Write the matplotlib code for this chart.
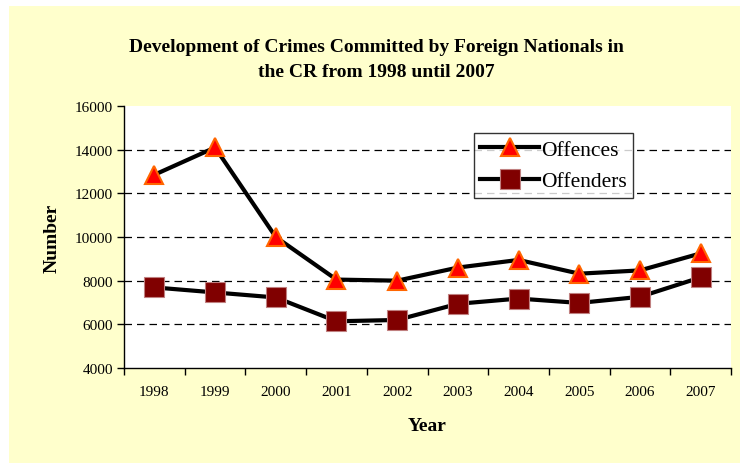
import matplotlib
matplotlib.use("Agg")
import matplotlib.pyplot as plt
from matplotlib.patches import Rectangle

# ── Datos ──────────────────────────────────────────────────────────────────────
years = ["1998", "1999", "2000", "2001", "2002", "2003", "2004", "2005", "2006", "2007"]
offences = [12850, 14100, 10000, 8050, 8000, 8600, 8950, 8320, 8470, 9250]
offenders = [7690, 7460, 7230, 6140, 6200, 6940, 7180, 6980, 7260, 8150]

plt.rcParams["font.family"] = ["Liberation Serif", "DejaVu Serif"]

fig = plt.figure(figsize=(7.4, 4.64), dpi=100, facecolor="white")
fig.add_artist(Rectangle((9 / 740, 0), 731 / 740, 457 / 464,
                         transform=fig.transFigure, facecolor="#FFFFCC",
                         edgecolor="none", zorder=0))

ax = fig.add_axes([124 / 740, 95 / 464, 607 / 740, 262 / 464])
ax.set_facecolor("white")

x = list(range(len(years)))
ax.plot(x, offences, color="black", lw=3, marker="^", markersize=13,
        markerfacecolor="#FF0000", markeredgecolor="#FF6600", markeredgewidth=1.5,
        label="Offences", zorder=3)
ax.plot(x, offenders, color="black", lw=3, marker="s", markersize=14,
        markerfacecolor="#800000", markeredgecolor="#C08080", markeredgewidth=0.8,
        label="Offenders", zorder=3)

ax.set_xlim(-0.5, len(years) - 0.5)
ax.set_ylim(4000, 16000)
ax.set_yticks(range(4000, 16001, 2000))
ax.set_xticks([i - 0.5 for i in range(len(years) + 1)])
ax.set_xticklabels([])
ax.set_xticks(x, minor=True)
ax.set_xticklabels(years, minor=True)
ax.tick_params(axis="x", which="minor", length=0, pad=12, labelsize=11)
ax.tick_params(axis="x", which="major", direction="out", length=5, width=1)
ax.tick_params(axis="y", direction="out", length=5, width=1, labelsize=11, pad=3)

for v in range(6000, 15000, 2000):
    ax.axhline(v, color="black", lw=0.9, ls=(0, (6, 4)), zorder=1)

ax.spines[["top", "right"]].set_visible(False)
ax.spines[["left", "bottom"]].set_linewidth(1)

ax.set_xlabel("Year", fontsize=14, fontweight="bold", labelpad=14)
ax.set_ylabel("Number", fontsize=14, fontweight="bold", labelpad=10)

fig.text(376 / 740, 1 - 60 / 464,
         "Development of Crimes Committed by Foreign Nationals in\nthe CR from 1998 until 2007",
         ha="center", va="center", fontsize=14, fontweight="bold", linespacing=1.6)

leg = ax.legend(loc="upper left", bbox_to_anchor=(350 / 607, 235 / 262),
                fontsize=15.5, frameon=True, fancybox=False, edgecolor="black",
                borderpad=0.3, handlelength=2.7, handletextpad=0.1, labelspacing=0.55,
                borderaxespad=0)
leg.get_frame().set_linewidth(1)

fig.savefig("out.png", dpi=100, facecolor=fig.get_facecolor())
